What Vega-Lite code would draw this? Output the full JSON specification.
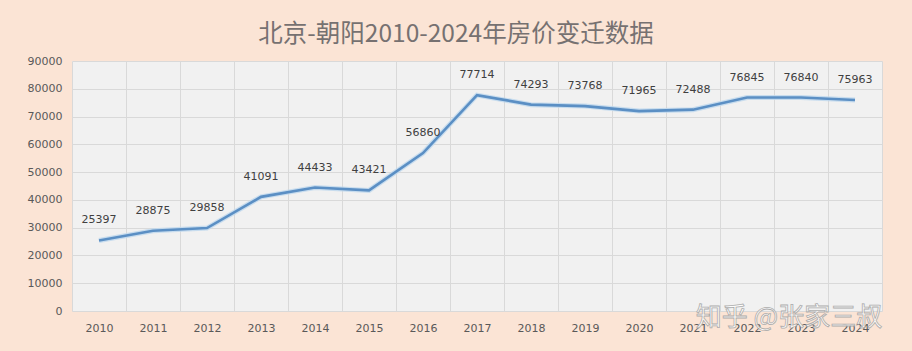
{
  "$schema": "https://vega.github.io/schema/vega-lite/v6.json",
  "width": 810,
  "height": 250,
  "autosize": "none",
  "padding": {"left": 72, "top": 61, "right": 30, "bottom": 40},
  "background": "#fbe4d5",
  "title": {
    "text": "北京-朝阳2010-2024年房价变迁数据",
    "font": "Noto Sans CJK SC",
    "fontSize": 24.5,
    "fontWeight": "normal",
    "color": "#767171",
    "anchor": "middle",
    "baseline": "bottom",
    "offset": -16,
    "dx": -21
  },
  "config": {
    "view": {"fill": "#f1f1f1", "stroke": null},
    "axis": {"labelFont": "DejaVu Sans", "labelFontSize": 11, "labelColor": "#595959", "domain": false, "ticks": false, "gridColor": "#d9d9d9", "gridWidth": 1}
  },
  "data": {
    "values": [
      {"year": "2010", "price": 25397},
      {"year": "2011", "price": 28875},
      {"year": "2012", "price": 29858},
      {"year": "2013", "price": 41091},
      {"year": "2014", "price": 44433},
      {"year": "2015", "price": 43421},
      {"year": "2016", "price": 56860},
      {"year": "2017", "price": 77714},
      {"year": "2018", "price": 74293},
      {"year": "2019", "price": 73768},
      {"year": "2020", "price": 71965},
      {"year": "2021", "price": 72488},
      {"year": "2022", "price": 76845},
      {"year": "2023", "price": 76840},
      {"year": "2024", "price": 75963}
    ]
  },
  "encoding": {
    "x": {"field": "year", "type": "ordinal", "title": null, "scale": {"paddingInner": 0, "paddingOuter": 0},
      "axis": {"labelAngle": 0, "grid": true, "tickBand": "extent", "labelPadding": 11}},
    "y": {"field": "price", "type": "quantitative", "title": null,
      "scale": {"domain": [0, 90000], "nice": false},
      "axis": {"values": [0,10000,20000,30000,40000,50000,60000,70000,80000,90000], "format": "d", "labelPadding": 10}}
  },
  "layer": [
    {"mark": {"type": "line", "color": "#bdd7ee", "strokeWidth": 5, "opacity": 0.8}},
    {"mark": {"type": "line", "color": "#5b8fc4", "strokeWidth": 2.6}},
    {"mark": {"type": "text", "dy": -20, "font": "DejaVu Sans", "fontSize": 11, "color": "#404040"},
      "encoding": {"text": {"field": "price", "type": "quantitative", "format": "d"}}},
    {"data": {"values": [{"year": "2023", "price": 0, "mark": "知乎 @张家三叔"}]},
      "mark": {"type": "text", "dx": -12, "dy": 7, "font": "Noto Sans CJK SC", "fontSize": 26, "fill": "#ffffff", "stroke": "#a6a6a6", "strokeWidth": 0.8, "opacity": 0.9},
      "encoding": {"text": {"field": "mark"}}}
  ]
}
